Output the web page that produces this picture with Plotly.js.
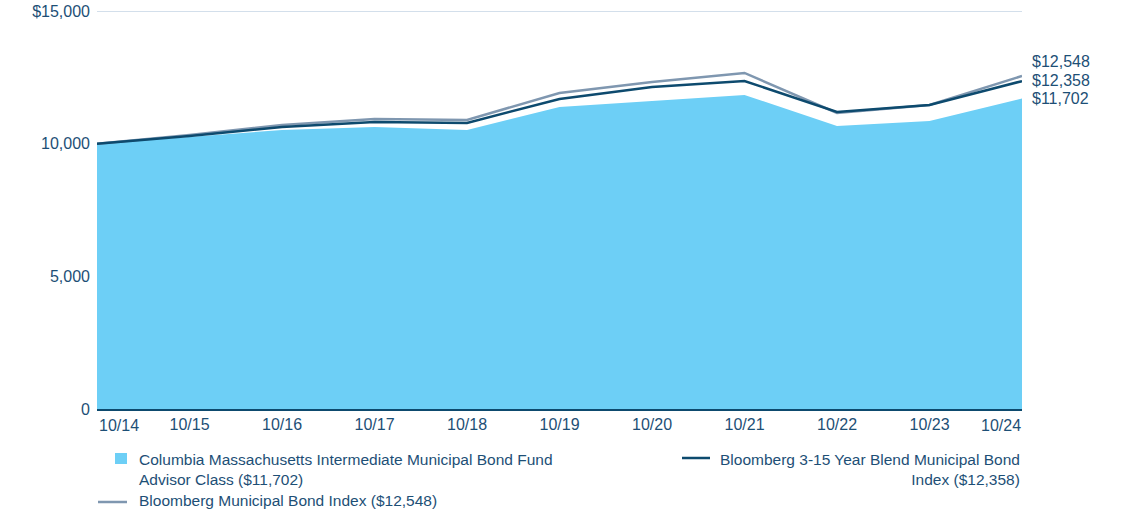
<!DOCTYPE html>
<html>
<head>
<meta charset="utf-8">
<script src="https://cdn.plot.ly/plotly-3.0.1.min.js"></script>
<style>
  html, body { margin: 0; padding: 0; background: #fff; }
  #plot { width: 1121px; height: 515px; }
</style>
</head>
<body>
<div id="plot"></div>
<script>
// Growth of $10,000, October 2014 - October 2024
var periods = ["10/14", "10/15", "10/16", "10/17", "10/18", "10/19", "10/20", "10/21", "10/22", "10/23", "10/24"];
var fundValues = [10000, 10252, 10516, 10629, 10516, 11383, 11609, 11835, 10667, 10855, 11702];
var blendValues = [10000, 10290, 10630, 10818, 10780, 11685, 12137, 12363, 11195, 11459, 12358];
var muniValues = [10000, 10328, 10705, 10931, 10893, 11911, 12326, 12665, 11157, 11459, 12548];

var fundName = "Columbia Massachusetts Intermediate Municipal Bond Fund<br>Advisor Class ($11,702)";
var blendName = "Bloomberg 3-15 Year Blend Municipal Bond<br>Index ($12,358)";
var muniName = "Bloomberg Municipal Bond Index ($12,548)";

var yTicks = [0, 5000, 10000, 15000];
var yTickText = ["0", "5,000", "10,000", "$15,000"];

var textColor = "#1d4f76";
var fontFam = "'Liberation Sans', Arial, sans-serif";

var idx = periods.map(function (p, i) { return i; });
var last = periods.length - 1;

var fund = {
  x: idx, y: fundValues, type: "scatter", mode: "lines",
  fill: "tozeroy", fillcolor: "#6dcff6",
  line: { color: "#6dcff6", width: 0 },
  name: fundName, hoverinfo: "y"
};
var muni = {
  x: idx, y: muniValues, type: "scatter", mode: "lines",
  line: { color: "#7f97b0", width: 2.5 },
  name: muniName, hoverinfo: "y"
};
var blend = {
  x: idx, y: blendValues, type: "scatter", mode: "lines",
  line: { color: "#0d4a6e", width: 2.5 },
  name: blendName, hoverinfo: "y"
};

var annotations = [
  // end-value labels
  { x: last, y: muniValues[last], text: "$12,548", yshift: 15 },
  { x: last, y: blendValues[last], text: "$12,358", yshift: 1 },
  { x: last, y: fundValues[last], text: "$11,702", yshift: 0 }
].map(function (a) {
  return {
    x: a.x, y: a.y, xref: "x", yref: "y", text: a.text, showarrow: false,
    xanchor: "left", yanchor: "middle", xshift: 8, yshift: a.yshift,
    font: { family: fontFam, size: 16, color: textColor }
  };
});

// first and last x labels sit inside the plot edges
annotations.push({
  x: 0, y: 0, xref: "x", yref: "y", text: periods[0], showarrow: false,
  xanchor: "left", yanchor: "top", xshift: 0, yshift: -6,
  font: { family: fontFam, size: 16, color: textColor }
});
annotations.push({
  x: last, y: 0, xref: "x", yref: "y", text: periods[last], showarrow: false,
  xanchor: "right", yanchor: "top", xshift: 1, yshift: -6,
  font: { family: fontFam, size: 16, color: textColor }
});

// legend drawn by hand (two columns, right one right-aligned)
var legFont = { family: fontFam, size: 15.5, color: textColor };
annotations.push({
  x: 137, y: 469, xref: "paper", yref: "paper", text: fundName, showarrow: false,
  xanchor: "left", yanchor: "middle", align: "left", font: legFont
});
annotations.push({
  x: 137, y: 501, xref: "paper", yref: "paper", text: muniName, showarrow: false,
  xanchor: "left", yanchor: "middle", align: "left", font: legFont
});
annotations.push({
  x: 1022, y: 469, xref: "paper", yref: "paper", text: blendName, showarrow: false,
  xanchor: "right", yanchor: "middle", align: "right", font: legFont
});

// convert pixel positions to paper coords
var L = 97, R = 99, T = 11, B = 106, W = 1121, H = 515;
var pw = W - L - R, ph = H - T - B;
function px(x) { return (x - L) / pw; }
function py(y) { return (H - B - y) / ph; }
annotations.forEach(function (a) {
  if (a.xref === "paper") { a.x = px(a.x); a.y = py(a.y); }
});

var shapes = [
  // top gridline (plotly drops the one on the range edge)
  { type: "line", xref: "paper", yref: "y", x0: 0, x1: 1, y0: 15000, y1: 15000,
    line: { color: "#c5d5e4", width: 1.5 }, layer: "below" },
  { type: "rect", xref: "paper", yref: "paper", x0: px(115), x1: px(127), y0: py(464), y1: py(453),
    fillcolor: "#6dcff6", line: { width: 0 } },
  { type: "line", xref: "paper", yref: "paper", x0: px(98), x1: px(127), y0: py(502), y1: py(502),
    line: { color: "#7f97b0", width: 2.5 } },
  { type: "line", xref: "paper", yref: "paper", x0: px(682), x1: px(710), y0: py(458), y1: py(458),
    line: { color: "#0d4a6e", width: 2.5 } }
];

var layout = {
  width: W, height: H,
  margin: { l: L, r: R, t: T, b: B },
  paper_bgcolor: "#fff", plot_bgcolor: "#fff",
  showlegend: false,
  font: { family: fontFam, size: 16, color: textColor },
  xaxis: {
    range: [0, last],
    tickvals: idx.slice(1, last),
    ticktext: periods.slice(1, last),
    showgrid: false, zeroline: false,
    showline: true, linecolor: "#0d4a6e", linewidth: 1.5,
    ticks: "", ticklen: 0,
    tickfont: { family: fontFam, size: 16, color: textColor }
  },
  yaxis: {
    range: [0, 15000],
    tickvals: yTicks, ticktext: yTickText,
    showgrid: true, gridcolor: "#c5d5e4", gridwidth: 1,
    zeroline: false, showline: false, ticks: "",
    ticklabelstandoff: 6,
    tickfont: { family: fontFam, size: 16, color: textColor }
  },
  annotations: annotations,
  shapes: shapes
};

Plotly.newPlot("plot", [fund, muni, blend], layout, { displayModeBar: false, staticPlot: true });
</script>
</body>
</html>
